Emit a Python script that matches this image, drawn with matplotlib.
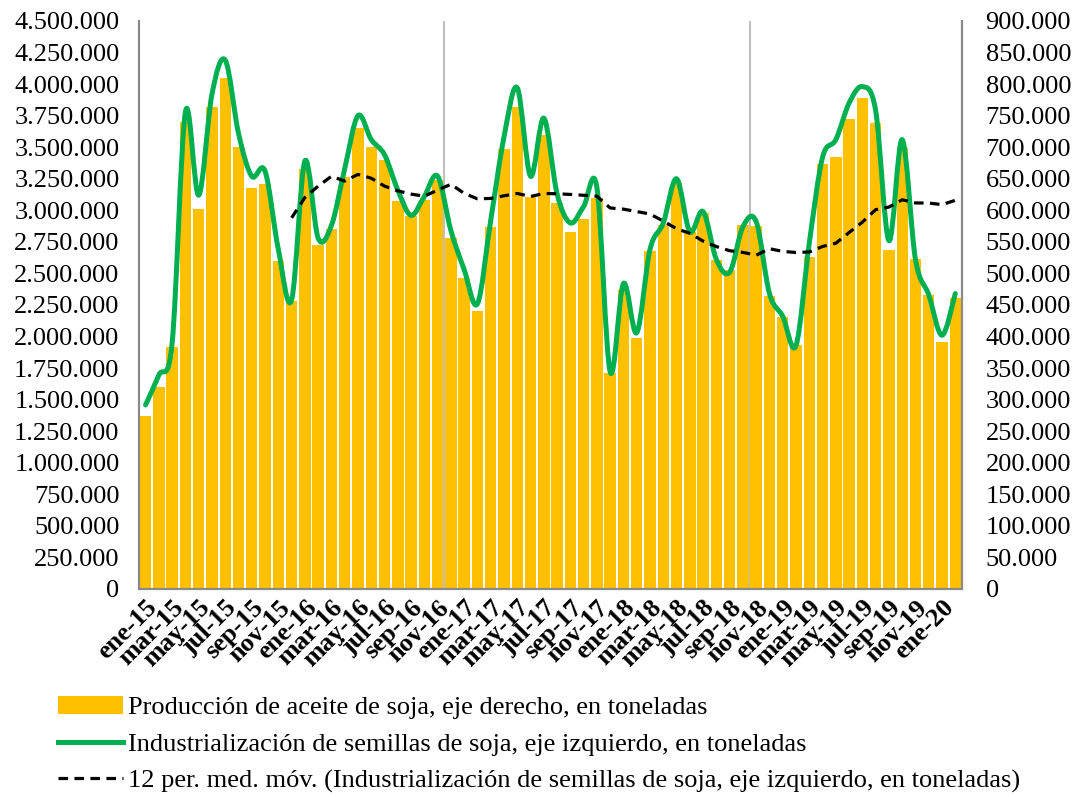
import matplotlib
matplotlib.use("Agg")
import matplotlib.pyplot as plt
import numpy as np
import pandas as pd
from matplotlib.path import Path
from matplotlib.patches import PathPatch
from matplotlib.ticker import FuncFormatter, MultipleLocator

# months ene-15 .. feb-20
month_abbr = ["ene", "feb", "mar", "abr", "may", "jun", "jul", "ago", "sep", "oct", "nov", "dic"]
months = [f"{m}-{y}" for y in range(15, 21) for m in month_abbr][:62]

# Producción de aceite de soja (eje derecho), toneladas
produccion = [274000, 320000, 384000, 740000, 602000, 764000, 809000, 700000, 635000, 641000,
              520000, 457000, 665000, 545000, 570000, 653000, 730000, 700000, 680000, 615000,
              591000, 617000, 648000, 556000, 493000, 440000, 574000, 697000, 764000, 621000,
              719000, 612000, 565000, 586000, 619000, 342000, 474000, 397000, 536000, 577000,
              643000, 566000, 595000, 521000, 505000, 577000, 575000, 464000, 431000, 387000,
              526000, 673000, 684000, 744000, 778000, 739000, 537000, 698000, 523000, 466000,
              391000, 461000]

# Industrialización de semillas de soja (eje izquierdo), toneladas
industrializacion = [1458000, 1695000, 1950000, 3780000, 3120000, 3920000, 4190000, 3610000, 3270000, 3310000,
                     2690000, 2290000, 3390000, 2780000, 2880000, 3330000, 3750000, 3560000, 3440000, 3160000,
                     2960000, 3110000, 3270000, 2840000, 2530000, 2260000, 2920000, 3580000, 3970000, 3270000,
                     3730000, 3130000, 2900000, 3030000, 3180000, 1720000, 2420000, 2030000, 2690000, 2900000,
                     3250000, 2830000, 2990000, 2610000, 2510000, 2870000, 2910000, 2340000, 2160000, 1930000,
                     2740000, 3420000, 3560000, 3850000, 3980000, 3790000, 2760000, 3560000, 2610000, 2330000,
                     2010000, 2340000]

# 12 period moving average (the chart's trendline)
media_movil = pd.Series(industrializacion).rolling(12).mean()

YELLOW = "#FFC000"
GREEN = "#00B050"
GRAY = "#898989"


def smooth_path(x, y):
    # catmull-rom like bezier, similar to excel "smoothed line"
    pts = np.column_stack([x, y]).astype(float)
    verts = [pts[0]]
    codes = [Path.MOVETO]
    n = len(pts)
    for i in range(n - 1):
        p0 = pts[i - 1] if i > 0 else pts[i]
        p1 = pts[i]
        p2 = pts[i + 1]
        p3 = pts[i + 2] if i + 2 < n else pts[i + 1]
        c1 = p1 + (p2 - p0) / 6
        c2 = p2 - (p3 - p1) / 6
        verts += [c1, c2, p2]
        codes += [Path.CURVE4] * 3
    return Path(verts, codes)


def miles(v, pos):
    return f"{int(round(v)):,}".replace(",", ".")


plt.rcParams["font.family"] = ["Liberation Serif", "DejaVu Serif"]

fig = plt.figure(figsize=(10.73, 7.97), dpi=100)
ax = fig.add_axes([0.1295, 0.261, 0.767, 0.7127])
ax2 = ax.twinx()
ax.set_zorder(2)
ax.patch.set_visible(False)

x = np.arange(len(months))

# bars on right axis
ax2.bar(x, produccion, width=0.86, color=YELLOW, linewidth=0,
        label="Producción de aceite de soja, eje derecho, en toneladas")
ax2.set_ylim(0, 900000)
ax2.yaxis.set_major_locator(MultipleLocator(50000))

# lines on left axis
ax.add_patch(PathPatch(smooth_path(x, industrializacion), fill=False, edgecolor=GREEN,
                       lw=3.6, capstyle="round", joinstyle="round"))
ax.plot([], [], color=GREEN, lw=3.6,
        label="Industrialización de semillas de soja, eje izquierdo, en toneladas")
ax.plot(x, media_movil, color="black", lw=2.3, linestyle=(0, (3, 2)),
        label="12 per. med. móv. (Industrialización de semillas de soja, eje izquierdo, en toneladas)")
ax.set_ylim(0, 4500000)
ax.yaxis.set_major_locator(MultipleLocator(250000))
ax.set_xlim(-0.5, len(months) - 0.5)

for xv in [22.5, 45.5]:
    ax2.axvline(xv, color="#BFBFBF", lw=1.5, zorder=0)

ax.yaxis.set_major_formatter(FuncFormatter(miles))
ax2.yaxis.set_major_formatter(FuncFormatter(miles))

ax.set_xticks(x[::2])
ax.set_xticklabels(months[::2], rotation=45, ha="right", rotation_mode="anchor",
                   fontweight="bold", fontsize=19)
ax.tick_params(axis="x", length=0, pad=5)
ax.tick_params(axis="y", length=0, pad=14, labelsize=19)
ax2.tick_params(axis="y", length=0, pad=17, labelsize=19)

for a in (ax, ax2):
    a.spines["top"].set_visible(False)
    for s in ("left", "right", "bottom"):
        a.spines[s].set_color(GRAY)
        a.spines[s].set_linewidth(1.5)

h1, l1 = ax2.get_legend_handles_labels()
h2, l2 = ax.get_legend_handles_labels()
fig.legend(h1 + h2, l1 + l2, loc="upper left", bbox_to_anchor=(0.054, 0.127),
           frameon=False, fontsize=19, handlelength=2.45, handletextpad=0.2,
           labelspacing=0.5, borderpad=0, borderaxespad=0)

fig.savefig("out.png", dpi=100)
